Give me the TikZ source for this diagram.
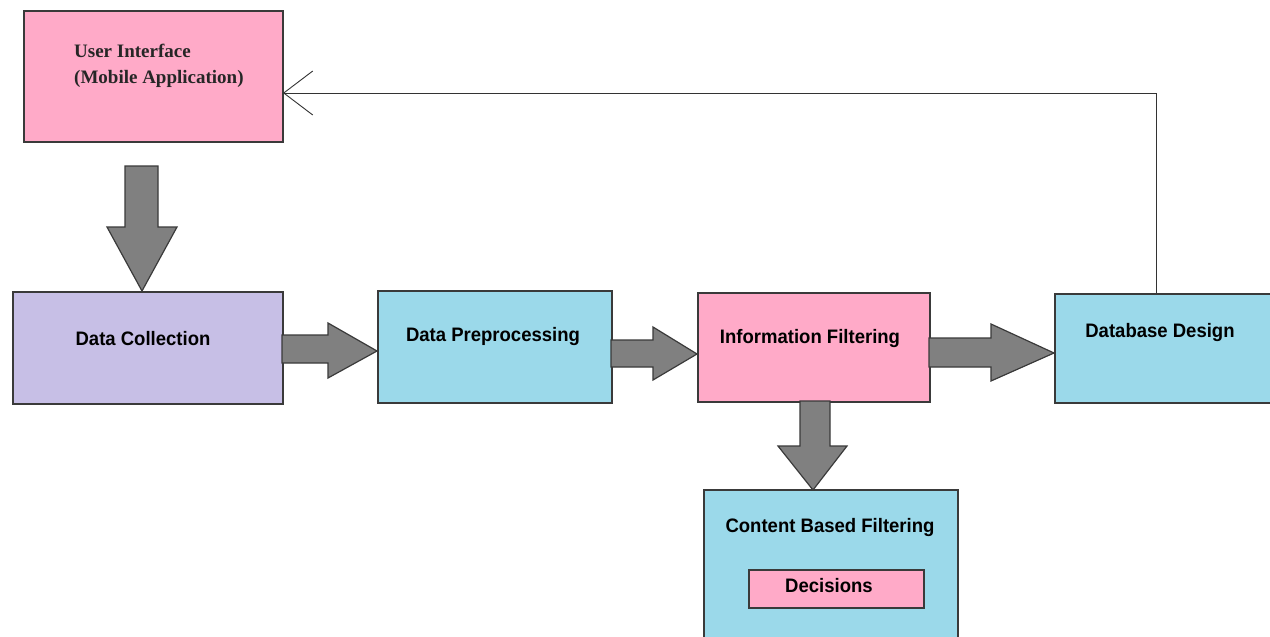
\documentclass[tikz,border=0pt]{standalone}
\usepackage{fontspec}
\usetikzlibrary{arrows.meta}
\newfontfamily\lblfont[FakeStretch=0.95]{Liberation Sans}
\newfontfamily\uiserif{Liberation Serif}
\definecolor{pinkbox}{HTML}{FFAAC8}
\definecolor{lavbox}{HTML}{C7BFE6}
\definecolor{bluebox}{HTML}{9BD9EA}
\definecolor{arrowgray}{HTML}{808080}
\definecolor{edgegray}{HTML}{3A3A3A}
\tikzset{
  box/.style={draw=edgegray, line width=1.6pt, inner sep=0pt, anchor=north west},
  lbl/.style={font=\lblfont\bfseries\fontsize{19.5}{22}\selectfont, text=black, inner sep=0pt, anchor=base},
  blockarrow/.style={fill=arrowgray, draw=edgegray, line width=1.2pt, line join=miter},
  fbline/.style={draw=black!80, line width=1pt, -{Straight Barb[length=29pt, width=44pt, line width=0.9pt]}}
}
\begin{document}
\begin{tikzpicture}[x=1pt, y=-1pt]
\useasboundingbox (0,0) rectangle (1270,637);
\fill[white] (0,0) rectangle (1270,637);
% boxes
\node[box, fill=pinkbox, minimum width=259pt, minimum height=131pt] (ui) at (23,10) {};
\node[box, fill=lavbox, minimum width=270pt, minimum height=112pt] (dc) at (12,291) {};
\node[box, fill=bluebox, minimum width=234pt, minimum height=112pt] (dp) at (377,290) {};
\node[box, fill=pinkbox, minimum width=232pt, minimum height=109pt] (if) at (697,292) {};
\node[box, fill=bluebox, minimum width=218pt, minimum height=109pt] (db) at (1054,293) {};
\node[box, fill=bluebox, minimum width=254pt, minimum height=152pt] (cbf) at (703,489) {};
\node[box, fill=pinkbox, minimum width=175pt, minimum height=38pt] (dec) at (748,569) {};
% labels
\node[font=\uiserif\bfseries\fontsize{19}{26}\selectfont, text=black!85, align=left, inner sep=0pt, anchor=base west] (uit) at (74,83) {User Interface\\(Mobile Application)};
\node[lbl] (dct) at (143,345) {Data Collection};
\node[lbl] (dpt) at (493,341) {Data Preprocessing};
\node[lbl] (ift) at (810,343) {Information Filtering};
\node[lbl] (dbt) at (1160,337) {Database Design};
\node[lbl] (cbft) at (830,532) {Content Based Filtering};
\node[lbl] (dect) at (829,592) {Decisions};
% block arrows
\draw[blockarrow] (125,166) -- (158,166) -- (158,227) -- (177,227) -- (142,291) -- (107,227) -- (125,227) -- cycle;
\draw[blockarrow] (282,335) -- (328,335) -- (328,323) -- (377,351) -- (328,378) -- (328,363) -- (282,363) -- cycle;
\draw[blockarrow] (611,340) -- (653,340) -- (653,327) -- (697,354) -- (653,380) -- (653,367) -- (611,367) -- cycle;
\draw[blockarrow] (929,338) -- (991,338) -- (991,324) -- (1054,353) -- (991,381) -- (991,367) -- (929,367) -- cycle;
\draw[blockarrow] (800,401) -- (830,401) -- (830,446) -- (847,446) -- (813,490) -- (778,446) -- (800,446) -- cycle;
% feedback connector
\coordinate (fbs) at (1156,293);
\coordinate (fbe) at (283,93);
\draw[fbline] (fbs) |- (fbe);
\end{tikzpicture}
\end{document}
